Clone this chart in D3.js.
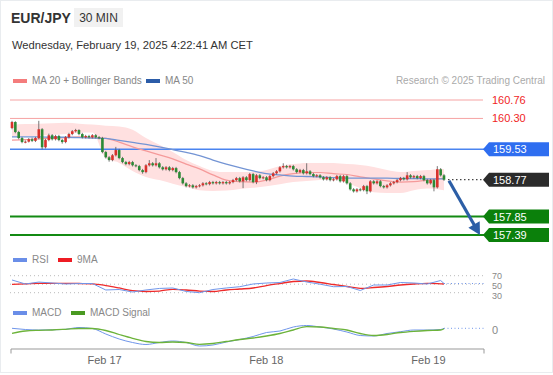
<!DOCTYPE html>
<html>
<head>
<meta charset="utf-8">
<script src="https://cdn.jsdelivr.net/npm/d3@7"></script>
<style>
  body { margin: 0; background: #fff; }
  svg { display: block; font-family: "Liberation Sans", Arial, sans-serif; }
</style>
</head>
<body>
<svg id="chart" width="553" height="375"></svg>
<script>
// velas de 30 min, EUR/JPY (open = cierre anterior)
var firstOpen = 160.06;
var closes = [160.21,159.96,159.81,159.71,159.72,159.78,159.74,159.81,160.03,159.58,
  159.76,159.88,159.78,159.86,159.76,159.71,159.83,159.91,159.98,160.01,
  159.91,159.83,159.86,159.83,159.88,159.83,159.81,159.46,159.33,159.26,
  159.38,159.51,159.31,159.21,159.16,159.21,159.13,159.11,159.01,158.96,
  159.13,159.18,159.13,159.18,159.08,159.03,159.08,159.01,159.06,158.96,
  158.81,158.68,158.61,158.63,158.58,158.61,158.63,158.68,158.66,158.71,
  158.68,158.71,158.68,158.71,158.68,158.71,158.76,158.81,158.73,158.83,
  158.76,158.91,158.71,158.88,158.81,158.83,158.76,158.86,158.93,158.98,
  159.08,159.11,159.08,159.11,159.03,158.96,159.01,158.93,158.98,158.91,
  158.86,158.88,158.83,158.78,158.83,158.76,158.78,158.86,158.73,158.86,
  158.68,158.53,158.48,158.53,158.51,158.61,158.48,158.73,158.68,158.73,
  158.61,158.58,158.63,158.68,158.71,158.76,158.81,158.78,158.88,158.83,
  158.86,158.81,158.86,158.76,158.68,158.76,158.58,159.03,158.88,158.77];
var highs = [160.24,160.23,159.99,159.84,159.75,159.81,159.82,159.84,160.24,160.06,
  159.79,159.92,159.91,159.89,159.89,159.79,159.86,159.94,160.01,160.04,
  160.03,159.94,159.89,159.89,159.91,159.91,159.86,159.84,159.49,159.36,
  159.41,159.59,159.54,159.34,159.24,159.24,159.24,159.16,159.14,159.04,
  159.16,159.26,159.21,159.31,159.21,159.11,159.11,159.11,159.09,159.09,
  158.99,158.84,158.71,158.66,158.66,158.64,158.66,158.71,158.71,158.74,
  158.74,158.74,158.74,158.74,158.74,158.74,158.79,158.84,158.84,158.86,
  158.86,158.94,158.94,158.91,158.91,158.86,158.86,158.89,158.96,159.01,
  159.11,159.18,159.14,159.14,159.14,159.06,159.04,159.04,159.18,159.01,
  158.94,158.91,158.91,158.86,158.86,158.86,158.81,158.89,158.89,158.89,
  158.89,158.71,158.56,158.56,158.56,158.64,158.64,158.76,158.76,158.76,
  158.76,158.64,158.66,158.71,158.74,158.79,158.84,158.84,158.96,158.91,
  158.89,158.89,158.89,158.89,158.79,158.79,158.79,159.11,159.06,158.91];
var lows = [160.03,159.93,159.78,159.68,159.68,159.70,159.71,159.71,159.78,159.53,
  159.55,159.73,159.75,159.75,159.73,159.67,159.68,159.80,159.88,159.95,
  159.88,159.80,159.80,159.80,159.80,159.80,159.78,159.43,159.30,159.22,
  159.23,159.35,159.28,159.18,159.13,159.13,159.10,159.08,158.98,158.92,
  158.93,159.10,159.10,159.10,159.05,159.00,159.00,158.98,158.98,158.93,
  158.78,158.65,158.58,158.58,158.55,158.55,158.58,158.60,158.63,158.63,
  158.65,158.65,158.65,158.65,158.65,158.65,158.68,158.73,158.70,158.56,
  158.73,158.73,158.68,158.66,158.78,158.78,158.73,158.73,158.83,158.90,
  158.95,159.05,159.05,159.05,159.00,158.93,158.93,158.90,158.90,158.88,
  158.83,158.83,158.80,158.75,158.75,158.73,158.73,158.75,158.70,158.70,
  158.65,158.50,158.45,158.45,158.48,158.48,158.41,158.45,158.65,158.65,
  158.58,158.55,158.55,158.60,158.65,158.68,158.73,158.75,158.75,158.80,
  158.80,158.78,158.78,158.73,158.65,158.65,158.48,158.55,158.85,158.74];

// indicadores leídos cada 4 velas
var sampleIdx = [0,4,8,12,16,20,24,28,32,36,40,44,48,52,56,60,64,68,72,76,
  80,84,88,92,96,100,104,108,112,116,120,124,128,129];
var ma20 = [159.76,159.77,159.79,159.80,159.82,159.84,159.82,159.80,159.71,159.59,
  159.49,159.39,159.29,159.16,159.04,158.89,158.76,158.72,158.71,158.76,
  158.86,158.92,158.95,158.95,158.92,158.90,158.84,158.79,158.74,158.71,
  158.72,158.76,158.80,158.81];
var bbUpper = [160.14,160.16,160.17,160.18,160.19,160.17,160.15,160.12,160.10,160.02,
  159.81,159.64,159.46,159.26,159.11,158.99,158.96,158.96,158.96,159.01,
  159.11,159.16,159.19,159.19,159.19,159.16,159.14,159.09,159.01,158.96,
  158.99,159.01,159.04,159.04];
var bbLower = [159.84,159.86,159.87,159.89,159.91,159.94,159.95,159.31,159.19,158.99,
  158.84,158.76,158.67,158.59,158.51,158.49,158.50,158.54,158.57,158.61,
  158.66,158.71,158.74,158.76,158.79,158.69,158.56,158.46,158.44,158.44,
  158.51,158.55,158.52,158.51];
var ma50 = [159.84,159.84,159.84,159.83,159.83,159.82,159.81,159.80,159.75,159.70,
  159.65,159.59,159.52,159.45,159.37,159.26,159.16,159.07,158.99,158.92,
  158.89,158.86,158.85,158.84,158.82,158.81,158.81,158.81,158.81,158.80,
  158.80,158.79,158.79,158.79];
var rsi = [59.9,50.5,55.0,52.8,50.5,51.6,51.6,36.4,37.5,31.6,
  36.4,40.0,41.1,32.9,30.0,37.5,41.1,44.1,50.5,52.8,
  54.0,62.2,55.2,50.0,44.1,44.6,35.2,48.1,48.1,54.0,
  52.8,50.5,58.7,51.6];
var rsiMa = [49.8,50.9,52.1,52.1,52.1,51.6,50.9,46.9,41.1,34.7,
  32.8,33.9,38.0,36.4,33.9,32.8,36.4,38.7,41.1,46.9,
  51.6,56.4,57.5,54.0,49.3,44.6,40.4,42.2,44.6,48.1,
  50.5,52.1,50.9,50.5];
var macd = [0.017,0.005,0.0,0.002,0.007,0.025,0.015,-0.04,-0.09,-0.125,
  -0.145,-0.125,-0.11,-0.125,-0.16,-0.15,-0.12,-0.095,-0.065,-0.025,
  -0.01,0.03,0.045,0.03,0.01,-0.02,-0.055,-0.06,-0.035,-0.017,
  0.0,0.0,0.005,0.017];
var macdSignal = [-0.033,-0.01,-0.003,0.0,0.007,0.015,0.015,-0.005,-0.045,-0.083,
  -0.115,-0.125,-0.12,-0.125,-0.143,-0.135,-0.115,-0.095,-0.08,-0.06,
  -0.035,0.0,0.033,0.03,0.015,0.0,-0.035,-0.055,-0.045,-0.025,
  -0.013,-0.005,0.0,0.013];

// niveles
var resistances = [160.76, 160.30];
var pivot = 159.53;
var lastPrice = 158.77;
var supports = [157.85, 157.39];
var rsiLevels = [70, 50, 30];

// eje de fechas
var dateTicks = [27.5, 75.8, 124.2];
var dateLabels = ["Feb 17", "Feb 18", "Feb 19"];

var svg = d3.select("#chart");

svg.append("rect")
  .attr("x", 0.5).attr("y", 0.5)
  .attr("width", 552).attr("height", 372)
  .attr("fill", "#fff")
  .attr("stroke", "#e9ecef");

// cabecera
svg.append("text")
  .attr("x", 11).attr("y", 23)
  .attr("font-size", "14px").attr("font-weight", "bold")
  .attr("fill", "#333")
  .text("EUR/JPY");
svg.append("rect")
  .attr("x", 74).attr("y", 8)
  .attr("width", 49).attr("height", 19)
  .attr("fill", "#f1f1f1");
svg.append("text")
  .attr("x", 98.5).attr("y", 22)
  .attr("text-anchor", "middle")
  .attr("font-size", "12px").attr("fill", "#333")
  .text("30 MIN");
svg.append("text")
  .attr("x", 12).attr("y", 49)
  .attr("font-size", "11.2px").attr("fill", "#333")
  .text("Wednesday, February 19, 2025 4:22:41 AM CET");

// leyenda superior
function legendItem(x, y, color, label) {
  svg.append("rect")
    .attr("x", x).attr("y", y - 5)
    .attr("width", 14).attr("height", 4)
    .attr("fill", color);
  svg.append("text")
    .attr("x", x + 19).attr("y", y)
    .attr("font-size", "10px").attr("fill", "#888")
    .text(label);
}
legendItem(13, 84, "#f47c7c", "MA 20 + Bollinger Bands");
legendItem(146, 84, "#2b5ca8", "MA 50");
svg.append("text")
  .attr("x", 545).attr("y", 84)
  .attr("text-anchor", "end")
  .attr("font-size", "10px").attr("fill", "#aaa")
  .text("Research \u00a9 2025 Trading Central");

// escalas
var x = d3.scaleLinear().domain([0, closes.length - 1]).range([12, 444]);
var y = d3.scaleLinear().domain([157.39, 160.76]).range([235, 100]);
var yRsi = d3.scaleLinear().domain([30, 70]).range([292.7, 275.7]);
var yMacd = d3.scaleLinear().domain([-0.16, 0.05]).range([346, 325]);
var xLeft = 10, xRight = 484;

// bandas de Bollinger
var bandas = sampleIdx.map(function(d, i) {
  return { i: d, up: bbUpper[i], lo: bbLower[i], ma20: ma20[i], ma50: ma50[i],
           rsi: rsi[i], rsiMa: rsiMa[i], macd: macd[i], signal: macdSignal[i] };
});

svg.append("path")
  .datum(bandas)
  .attr("fill", "#ffe0e0")
  .attr("d", d3.area()
    .curve(d3.curveMonotoneX)
    .x(function(d) { return x(d.i); })
    .y0(function(d) { return y(d.lo); })
    .y1(function(d) { return y(d.up); }));

// lineas horizontales
resistances.forEach(function(p) {
  svg.append("line")
    .attr("x1", xLeft).attr("x2", xRight - 1)
    .attr("y1", y(p)).attr("y2", y(p))
    .attr("stroke", "#f6a3a3").attr("stroke-width", 1);
  svg.append("text")
    .attr("x", 492).attr("y", y(p) + 4)
    .attr("font-size", "11px").attr("fill", "#f01e1e")
    .text(p.toFixed(2));
});

svg.append("line")
  .attr("x1", xLeft).attr("x2", xRight)
  .attr("y1", y(pivot)).attr("y2", y(pivot))
  .attr("stroke", "#4a84f0").attr("stroke-width", 1.5);

supports.forEach(function(p) {
  svg.append("line")
    .attr("x1", xLeft).attr("x2", xRight)
    .attr("y1", y(p)).attr("y2", y(p))
    .attr("stroke", "#138a13").attr("stroke-width", 2);
});

// medias
var lineMa = function(key) {
  return d3.line()
    .curve(d3.curveMonotoneX)
    .x(function(d) { return x(d.i); })
    .y(function(d) { return y(d[key]); });
};
svg.append("path").datum(bandas)
  .attr("fill", "none").attr("stroke", "#f59a9a").attr("stroke-width", 1.2)
  .attr("d", lineMa("ma20"));
svg.append("path").datum(bandas)
  .attr("fill", "none").attr("stroke", "#7394d4").attr("stroke-width", 1.3)
  .attr("d", lineMa("ma50"));

// velas
var velas = closes.map(function(c, i) {
  return { i: i, o: i === 0 ? firstOpen : closes[i - 1], c: c, h: highs[i], l: lows[i] };
});
var colorVela = function(d) { return d.c >= d.o ? "#d8312c" : "#2d8a36"; };

svg.selectAll(".mecha")
  .data(velas)
  .enter().append("line")
  .attr("class", "mecha")
  .attr("x1", function(d) { return x(d.i); })
  .attr("x2", function(d) { return x(d.i); })
  .attr("y1", function(d) { return y(d.h); })
  .attr("y2", function(d) { return y(d.l); })
  .attr("stroke", "#555")
  .attr("stroke-width", 0.8);

svg.selectAll(".cuerpo")
  .data(velas)
  .enter().append("rect")
  .attr("class", "cuerpo")
  .attr("x", function(d) { return x(d.i) - 1.3; })
  .attr("width", 2.6)
  .attr("y", function(d) { return y(Math.max(d.o, d.c)); })
  .attr("height", function(d) { return Math.max(1, Math.abs(y(d.o) - y(d.c))); })
  .attr("fill", colorVela);

// precio actual punteado
svg.append("line")
  .attr("x1", x(closes.length - 1) + 4).attr("x2", xRight)
  .attr("y1", y(lastPrice)).attr("y2", y(lastPrice))
  .attr("stroke", "#444").attr("stroke-width", 1.2)
  .attr("stroke-dasharray", "1.5,2.5");

// flecha
var flechaIni = [x(closes.length - 1) + 5, y(lastPrice) + 1];
var flechaFin = [480, y(supports[1])];
var dx = flechaFin[0] - flechaIni[0], dy = flechaFin[1] - flechaIni[1];
var len = Math.sqrt(dx * dx + dy * dy), ux = dx / len, uy = dy / len;
svg.append("line")
  .attr("x1", flechaIni[0]).attr("y1", flechaIni[1])
  .attr("x2", flechaFin[0] - ux * 9).attr("y2", flechaFin[1] - uy * 9)
  .attr("stroke", "#2c5ea6").attr("stroke-width", 3.2);
svg.append("path")
  .attr("d", "M" + flechaFin[0] + "," + flechaFin[1] +
    "L" + (flechaFin[0] - ux * 12 - uy * 6.5) + "," + (flechaFin[1] - uy * 12 + ux * 6.5) +
    "L" + (flechaFin[0] - ux * 12 + uy * 6.5) + "," + (flechaFin[1] - uy * 12 - ux * 6.5) + "Z")
  .attr("fill", "#2c5ea6");

// etiquetas de precio
function etiqueta(p, color) {
  var cy = y(p);
  svg.append("path")
    .attr("d", "M483," + cy + "L489," + (cy - 7) + "H549V" + (cy + 7) + "H489Z")
    .attr("fill", color);
  svg.append("text")
    .attr("x", 493).attr("y", cy + 4)
    .attr("font-size", "11px").attr("fill", "#fff")
    .text(p.toFixed(2));
}
etiqueta(pivot, "#2f6ef0");
etiqueta(lastPrice, "#2b2b2b");
supports.forEach(function(p) { etiqueta(p, "#0b800b"); });

// panel RSI
legendItem(13, 263, "#6a8ee8", "RSI");
legendItem(58, 263, "#ee1c24", "9MA");
var rsiLabelY = [278.5, 288.7, 298.9];
rsiLevels.forEach(function(v, k) {
  svg.append("line")
    .attr("x1", xLeft).attr("x2", xRight)
    .attr("y1", yRsi(v)).attr("y2", yRsi(v))
    .attr("stroke", "#bbb").attr("stroke-dasharray", "1,3");
  svg.append("text")
    .attr("x", 492).attr("y", rsiLabelY[k])
    .attr("font-size", "9px").attr("fill", "#888")
    .text(v);
});
var lineaPanel = function(scale, key) {
  return d3.line()
    .x(function(d) { return x(d.i); })
    .y(function(d) { return scale(d[key]); });
};
svg.append("path").datum(bandas)
  .attr("fill", "none").attr("stroke", "#ee2a2a").attr("stroke-width", 1.3)
  .attr("d", lineaPanel(yRsi, "rsiMa").curve(d3.curveMonotoneX));
svg.append("path").datum(bandas)
  .attr("fill", "none").attr("stroke", "#7096ea").attr("stroke-width", 1)
  .attr("d", lineaPanel(yRsi, "rsi"));
svg.append("line")
  .attr("x1", x(closes.length - 1)).attr("x2", xRight)
  .attr("y1", yRsi(rsi[rsi.length - 1])).attr("y2", yRsi(rsi[rsi.length - 1]))
  .attr("stroke", "#7096ea").attr("stroke-dasharray", "1,2.5");

// panel MACD
legendItem(13, 316, "#6a8ee8", "MACD");
legendItem(71, 316, "#4a9a22", "MACD Signal");
svg.append("text")
  .attr("x", 492).attr("y", yMacd(0) + 4)
  .attr("font-size", "11px").attr("fill", "#888")
  .text("0");
svg.append("path").datum(bandas)
  .attr("fill", "none").attr("stroke", "#7096ea").attr("stroke-width", 1)
  .attr("d", lineaPanel(yMacd, "macd").curve(d3.curveMonotoneX));
svg.append("path").datum(bandas)
  .attr("fill", "none").attr("stroke", "#6cb33a").attr("stroke-width", 1.3)
  .attr("d", lineaPanel(yMacd, "signal").curve(d3.curveMonotoneX));
svg.append("line")
  .attr("x1", x(closes.length - 1)).attr("x2", xRight)
  .attr("y1", yMacd(macd[macd.length - 1])).attr("y2", yMacd(macd[macd.length - 1]))
  .attr("stroke", "#7096ea").attr("stroke-dasharray", "1,2.5");

// eje X
var xAxisScale = d3.scaleLinear()
  .domain([x.invert(10.5), x.invert(483.5)])
  .range([10.5, 483.5]);
var eje = svg.append("g")
  .attr("transform", "translate(0,348.5)")
  .call(d3.axisBottom(xAxisScale)
    .tickValues(dateTicks)
    .tickFormat(function(d, i) { return dateLabels[i]; })
    .tickSizeInner(0)
    .tickSizeOuter(5)
    .tickPadding(8));
eje.select(".domain").attr("stroke", "#999");
eje.selectAll("text")
  .attr("font-family", "Liberation Sans, Arial, sans-serif")
  .attr("font-size", "11px")
  .attr("fill", "#666");
</script>
</body>
</html>
